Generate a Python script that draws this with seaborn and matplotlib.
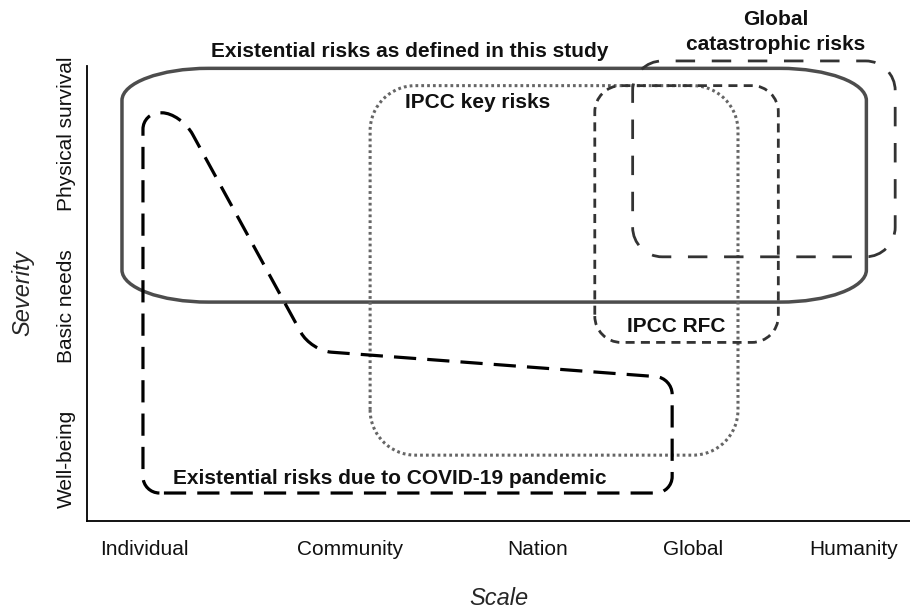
import numpy as np
import matplotlib
matplotlib.use("Agg")
import matplotlib.pyplot as plt
from matplotlib.path import Path
from matplotlib.patches import PathPatch
import seaborn as sns

# --- Axis categories ---
scale_labels = ["Individual", "Community", "Nation", "Global", "Humanity"]
scale_pos = [0.70, 3.20, 5.48, 7.36, 9.31]
severity_labels = ["Well-being", "Basic needs", "Physical survival"]
severity_pos = [0.76, 2.61, 4.70]

# --- Risk regions (scale range, severity range) ---
existential_x = [0.425, 9.47]
existential_y = [2.66, 5.50]
ipcc_key_x = [3.44, 7.91]
ipcc_key_y = [0.80, 5.29]
ipcc_rfc_x = [6.17, 8.40]
ipcc_rfc_y = [2.17, 5.29]
gcr_x = [6.63, 9.82]
gcr_y = [3.21, 5.59]

# COVID-19 outline (corner points)
covid_x = [0.68, 0.68, 1.14, 2.72, 7.11, 7.11]
covid_y = [0.34, 4.96, 4.96, 2.07, 1.74, 0.34]


def rounded_path(xs, ys, radius):
    # closed polygon with rounded corners; radius can be (horizontal, vertical)
    pts = np.column_stack([xs, ys]).astype(float)
    n = len(pts)
    rads = radius if isinstance(radius, list) else [radius] * n
    verts, codes = [], []
    k = 0.552
    for i in range(n):
        prev, cur, nxt = pts[i - 1], pts[i], pts[(i + 1) % n]
        r = rads[i]
        cuts = []
        for other in (prev, nxt):
            d = other - cur
            rr = r
            if isinstance(r, tuple):
                rr = r[0] if abs(d[0]) > abs(d[1]) else r[1]
            cuts.append(cur + d * min(rr / np.hypot(*d), 0.5))
        a, b = cuts
        verts.append(a)
        codes.append(Path.MOVETO if i == 0 else Path.LINETO)
        verts += [a + (cur - a) * k, b + (cur - b) * k, b]
        codes += [Path.CURVE4] * 3
    verts.append(verts[0])
    codes.append(Path.CLOSEPOLY)
    return Path(verts, codes)


def box(xr, yr):
    return [xr[0], xr[1], xr[1], xr[0]], [yr[0], yr[0], yr[1], yr[1]]


sns.set_theme(style="white")
plt.rcParams["font.family"] = ["Liberation Sans", "DejaVu Sans"]
plt.rcParams["lines.scale_dashes"] = False

fig = plt.figure(figsize=(9.1, 6.13), dpi=100)
ax = fig.add_axes([87 / 910, 92 / 613, 823 / 910, 455 / 613])
ax.set_xlim(0, 10)
ax.set_ylim(0, 455 / 82.3)

shapes = [
    (rounded_path(*box(existential_x, existential_y), (1.05, 0.39)),
     dict(edgecolor="#4d4d4d", lw=2.5, ls="-")),
    (rounded_path(*box(ipcc_key_x, ipcc_key_y), 0.55),
     dict(edgecolor="#666666", lw=2.2, ls=(0, (2.0, 2.2)))),
    (rounded_path(*box(ipcc_rfc_x, ipcc_rfc_y), 0.32),
     dict(edgecolor="#333333", lw=2.0, ls=(0, (6.5, 4.5)))),
    (rounded_path(*box(gcr_x, gcr_y), 0.36),
     dict(edgecolor="#333333", lw=2.0, ls=(0, (14, 12)))),
    (rounded_path(covid_x, covid_y, [0.2, 0.2, 0.3, 0.25, 0.2, 0.2]),
     dict(edgecolor="black", lw=2.3, ls=(0, (16, 8)))),
]
for path, style in shapes:
    ax.add_patch(PathPatch(path, facecolor="none", clip_on=False,
                           capstyle="butt", joinstyle="round", **style))

# region labels
label_kw = dict(ha="center", va="center", fontsize=15, fontweight="bold",
                color="#111111", clip_on=False)
ax.text(3.92, 5.70, "Existential risks as defined in this study", **label_kw)
ax.text(8.37, 5.94, "Global\ncatastrophic risks", linespacing=1.4, **label_kw)
ax.text(4.75, 5.09, "IPCC key risks", **label_kw)
ax.text(7.16, 2.36, "IPCC RFC", **label_kw)
ax.text(3.68, 0.52, "Existential risks due to COVID-19 pandemic", **label_kw)

ax.set_xticks(scale_pos, scale_labels, fontsize=15, color="#111111")
ax.set_yticks(severity_pos, severity_labels, fontsize=15, color="#111111",
              rotation=90, va="center")
ax.tick_params(axis="both", length=0)
ax.tick_params(axis="x", pad=14)
ax.tick_params(axis="y", pad=8)
ax.set_xlabel("Scale", fontsize=17, fontstyle="italic", labelpad=20)
ax.set_ylabel("Severity", fontsize=17, fontstyle="italic", labelpad=16)

sns.despine(ax=ax)
for side in ("left", "bottom"):
    ax.spines[side].set_color("black")
    ax.spines[side].set_linewidth(1.3)

fig.savefig("out.png", dpi=100)
